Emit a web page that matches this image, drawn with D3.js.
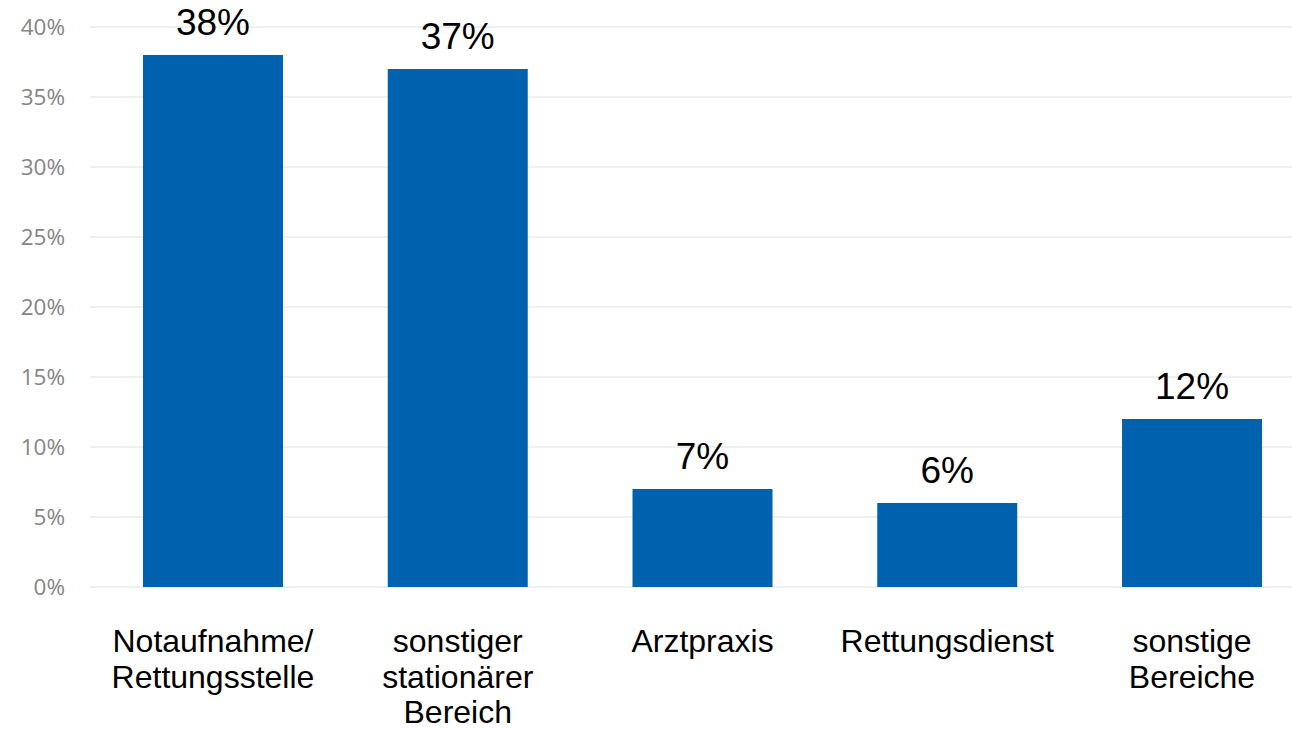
<!DOCTYPE html>
<html>
<head>
<meta charset="utf-8">
<script src="https://cdn.jsdelivr.net/npm/d3@7"></script>
<style>
  body { margin: 0; background: #fff; }
  svg { display: block; }
</style>
</head>
<body>
<div id="chart"></div>
<script>
// Chart data
var categories = [
  ["Notaufnahme/", "Rettungsstelle"],
  ["sonstiger", "stationärer", "Bereich"],
  ["Arztpraxis"],
  ["Rettungsdienst"],
  ["sonstige", "Bereiche"]
];
var values = [38, 37, 7, 6, 12];
var yTicks = [0, 5, 10, 15, 20, 25, 30, 35, 40];

var width = 1292, height = 729;
var svg = d3.select('#chart').append('svg').attr('width', width).attr('height', height);

var x = d3.scaleBand()
  .domain(d3.range(categories.length))
  .range([90.6, 1314.4])
  .paddingInner(0.428)
  .paddingOuter(0.214);

var y = d3.scaleLinear().domain([0, 40]).range([587, 27]);

// Gridlines
svg.append('g')
  .selectAll('line')
  .data(yTicks)
  .enter()
  .append('line')
  .attr('x1', 90)
  .attr('x2', width)
  .attr('y1', function(d) { return y(d); })
  .attr('y2', function(d) { return y(d); })
  .style('stroke', '#efefef')
  .style('stroke-width', 2);

// Y axis labels
var yAxis = d3.axisLeft(y).tickValues(yTicks).tickSize(0).tickPadding(0)
  .tickFormat(function(d) { return d + '%'; });
var gy = svg.append('g').attr('transform', 'translate(65,0)').call(yAxis);
gy.select('.domain').remove();
gy.selectAll('text')
  .style('font-family', '"Open Sans", sans-serif')
  .style('font-size', '22.5px')
  .style('fill', '#858585');

// Bars
svg.append('g')
  .selectAll('rect')
  .data(values)
  .enter()
  .append('rect')
  .attr('x', function(d, i) { return x(i); })
  .attr('y', function(d) { return y(d); })
  .attr('width', x.bandwidth())
  .attr('height', function(d) { return y(0) - y(d); })
  .style('fill', '#0062AF');

// Value labels
svg.append('g')
  .selectAll('text')
  .data(values)
  .enter()
  .append('text')
  .attr('x', function(d, i) { return x(i) + x.bandwidth() / 2; })
  .attr('y', function(d) { return y(d) - 20; })
  .attr('text-anchor', 'middle')
  .style('font-family', '"Liberation Sans", Arial, sans-serif')
  .style('font-size', '37px')
  .style('fill', '#000')
  .text(function(d) { return d + '%'; });

// Category labels
var cat = svg.append('g')
  .selectAll('text')
  .data(categories)
  .enter()
  .append('text')
  .attr('text-anchor', 'middle')
  .style('font-family', '"Liberation Sans", Arial, sans-serif')
  .style('font-size', '32px')
  .style('fill', '#000');

cat.selectAll('tspan')
  .data(function(d, i) { return d.map(function(t) { return {t: t, i: i}; }); })
  .enter()
  .append('tspan')
  .attr('x', function(d) { return x(d.i) + x.bandwidth() / 2; })
  .attr('y', function(d, j) { return 652 + j * 35.5; })
  .text(function(d) { return d.t; });
</script>
</body>
</html>
